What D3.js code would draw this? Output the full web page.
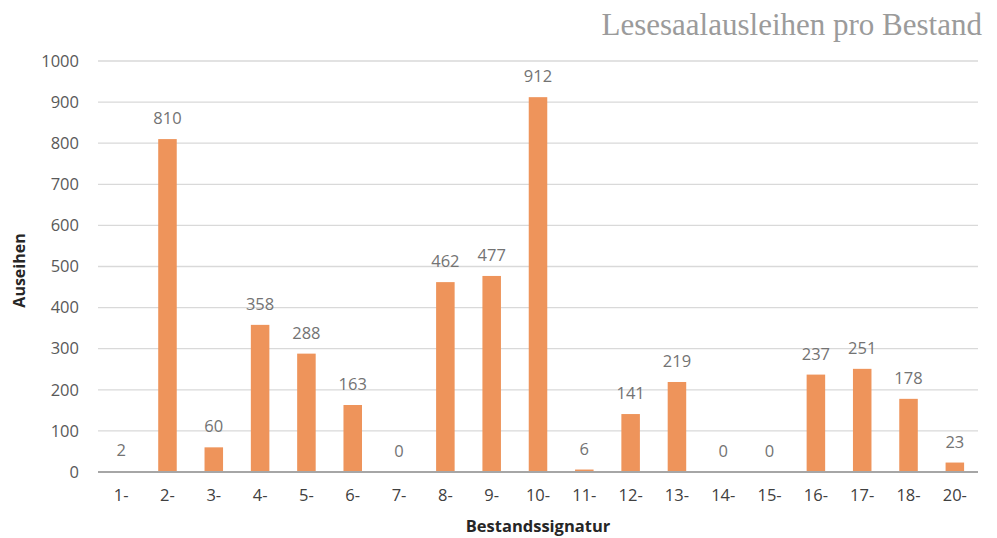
<!DOCTYPE html>
<html>
<head>
<meta charset="utf-8">
<script src="https://cdn.jsdelivr.net/npm/d3@7"></script>
<style>
  html, body { margin: 0; padding: 0; background: #fff; }
  svg { display: block; }
</style>
</head>
<body>
<script>
// Lesesaalausleihen je Bestandssignatur
const categories = ["1-","2-","3-","4-","5-","6-","7-","8-","9-","10-","11-","12-","13-","14-","15-","16-","17-","18-","20-"];
const loans = [2, 810, 60, 358, 288, 163, 0, 462, 477, 912, 6, 141, 219, 0, 0, 237, 251, 178, 23];
const yTicks = [0, 100, 200, 300, 400, 500, 600, 700, 800, 900, 1000];

const W = 997, H = 538;
const margin = { left: 98, right: 19, top: 61, bottom: 66 };

const svg = d3.select("body").append("svg")
  .attr("width", W).attr("height", H);

const x = d3.scaleBand()
  .domain(categories)
  .range([margin.left, W - margin.right])
  .paddingInner(0.6)
  .paddingOuter(0.3);

const y = d3.scaleLinear()
  .domain([0, 1000])
  .range([H - margin.bottom, margin.top]);

const font = "'Open Sans', 'Liberation Sans', sans-serif";

// horizontal gridlines
svg.append("g")
  .selectAll("line")
  .data(yTicks.filter(d => d > 0))
  .join("line")
  .attr("x1", margin.left).attr("x2", W - margin.right)
  .attr("y1", d => y(d)).attr("y2", d => y(d))
  .attr("stroke", "#d9d9d9").attr("stroke-width", 1.3);

// y axis labels
const yAxis = svg.append("g")
  .attr("transform", `translate(${margin.left},0)`)
  .call(d3.axisLeft(y).tickValues(yTicks).tickFormat(d3.format("d")).tickSize(0).tickPadding(19));
yAxis.select(".domain").remove();
yAxis.selectAll("text")
  .attr("font-family", font).attr("font-size", 16.5)
  .attr("fill", "#595959");

// bars
svg.append("g")
  .selectAll("rect")
  .data(categories)
  .join("rect")
  .attr("x", d => x(d))
  .attr("width", x.bandwidth())
  .attr("y", (d, i) => y(loans[i]))
  .attr("height", (d, i) => y(0) - y(loans[i]))
  .attr("fill", "#ee945b");

// value labels
svg.append("g")
  .selectAll("text")
  .data(categories)
  .join("text")
  .attr("x", d => x(d) + x.bandwidth() / 2)
  .attr("y", (d, i) => y(loans[i]) - 15)
  .attr("text-anchor", "middle")
  .attr("font-family", font).attr("font-size", 16.5)
  .attr("fill", "#737373")
  .text((d, i) => loans[i]);

// baseline
svg.append("line")
  .attr("x1", margin.left).attr("x2", W - margin.right)
  .attr("y1", y(0)).attr("y2", y(0))
  .attr("stroke", "#a6a6a6").attr("stroke-width", 2);

// x axis labels
const xAxis = svg.append("g")
  .attr("transform", `translate(0,${y(0)})`)
  .call(d3.axisBottom(x).tickSize(0).tickPadding(17));
xAxis.select(".domain").remove();
xAxis.selectAll("text")
  .attr("font-family", font).attr("font-size", 16.5)
  .attr("fill", "#404040");

// axis titles
svg.append("text")
  .attr("x", (margin.left + W - margin.right) / 2)
  .attr("y", 532)
  .attr("text-anchor", "middle")
  .attr("font-family", font).attr("font-size", 16.5).attr("font-weight", "bold")
  .attr("fill", "#262626")
  .text("Bestandssignatur");

svg.append("text")
  .attr("transform", `translate(25,${y(500) + 4}) rotate(-90)`)
  .attr("text-anchor", "middle")
  .attr("font-family", font).attr("font-size", 16).attr("font-weight", "bold")
  .attr("fill", "#262626")
  .text("Auseihen");

// chart title
svg.append("text")
  .attr("x", 982).attr("y", 35)
  .attr("text-anchor", "end")
  .attr("font-family", "'Liberation Serif', 'DejaVu Serif', serif")
  .attr("font-size", 31)
  .attr("fill", "#9b9b9b")
  .text("Lesesaalausleihen pro Bestand");
</script>
</body>
</html>
